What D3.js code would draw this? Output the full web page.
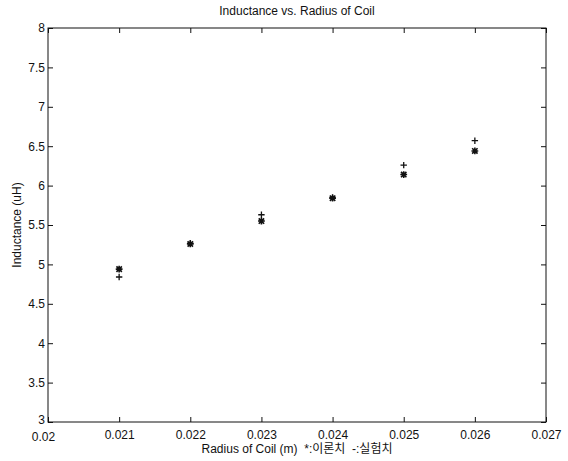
<!DOCTYPE html>
<html>
<head>
<meta charset="utf-8">
<script src="https://cdn.jsdelivr.net/npm/d3@7"></script>
<style>
  body { margin: 0; background: #fff; }
  svg text { font-family: "Liberation Sans", Arial, "Noto Sans CJK KR", sans-serif; fill: #111; }
</style>
</head>
<body>
<svg id="chart" width="568" height="461"></svg>
<script>
// Radius of coil (m)
var radius = [0.021, 0.022, 0.023, 0.024, 0.025, 0.026];
// '*' markers (theory) and '+' markers (experiment), uH
var theory = [4.94, 5.26, 5.55, 5.84, 6.14, 6.44];
var measured = [4.84, 5.27, 5.63, 5.85, 6.26, 6.57];

var xTicks = [0.020, 0.021, 0.022, 0.023, 0.024, 0.025, 0.026, 0.027];
var yTicks = [3, 3.5, 4, 4.5, 5, 5.5, 6, 6.5, 7, 7.5, 8];

(function() {

var plotLeft = 48, plotRight = 546, plotTop = 28, plotBottom = 422;
var fontSize = 12;

var svg = d3.select('#chart');

var x = d3.scaleLinear().domain([0.020, 0.027]).range([plotLeft, plotRight]);
var y = d3.scaleLinear().domain([3, 8]).range([plotBottom, plotTop]);

// box
svg.append('rect')
    .attr('x', plotLeft).attr('y', plotTop)
    .attr('width', plotRight - plotLeft).attr('height', plotBottom - plotTop)
    .attr('fill', 'none').attr('stroke', '#111').attr('stroke-width', 1);

// inward ticks on all four sides
var tickLen = 5;
var fmtX = function(d) { return d === 0.02 ? '0.02' : d3.format('.3f')(d); };

var xAxisB = d3.axisBottom(x).tickValues(xTicks).tickSize(-tickLen).tickPadding(8).tickFormat(fmtX);
var gxb = svg.append('g').attr('transform', 'translate(0,' + plotBottom + ')').call(xAxisB);
var xAxisT = d3.axisTop(x).tickValues(xTicks).tickSize(-tickLen).tickFormat('');
var gxt = svg.append('g').attr('transform', 'translate(0,' + plotTop + ')').call(xAxisT);

var yAxisL = d3.axisLeft(y).tickValues(yTicks).tickSize(-tickLen).tickPadding(3)
    .tickFormat(function(d) { return d3.format('')(d); });
var gyl = svg.append('g').attr('transform', 'translate(' + plotLeft + ',0)').call(yAxisL);
var yAxisR = d3.axisRight(y).tickValues(yTicks).tickSize(-tickLen).tickFormat('');
var gyr = svg.append('g').attr('transform', 'translate(' + plotRight + ',0)').call(yAxisR);

[gxb, gxt, gyl, gyr].forEach(function(g) {
  g.select('.domain').remove();
  g.selectAll('.tick line').attr('stroke', '#111');
  g.selectAll('.tick text').attr('font-size', fontSize).attr('fill', '#111');
});
// corner labels: "0.02" a bit left and down, "3" a bit up, so they stack
gxb.selectAll('.tick text').filter(function(d) { return d === 0.02; }).attr('dx', -5).attr('y', 10);
gyl.selectAll('.tick text').filter(function(d) { return d === 3; }).attr('y', -2);

// title and labels
svg.append('text')
    .attr('x', (plotLeft + plotRight) / 2).attr('y', 15)
    .attr('text-anchor', 'middle').attr('font-size', fontSize)
    .text('Inductance vs. Radius of Coil');

svg.append('text')
    .attr('x', (plotLeft + plotRight) / 2).attr('y', 453)
    .attr('text-anchor', 'middle').attr('font-size', fontSize)
    .style('white-space', 'pre')
    .text('Radius of Coil (m)  *:이론치  -:실험치');

svg.append('text')
    .attr('transform', 'translate(21,' + (plotTop + plotBottom) / 2 + ') rotate(-90)')
    .attr('text-anchor', 'middle').attr('font-size', fontSize)
    .text('Inductance (uH)');

// asterisk markers
var s = 3.4, d45 = 2.7;
svg.append('g').selectAll('path.star')
    .data(radius.map(function(r, i) { return [r, theory[i]]; }))
  .enter().append('path')
    .attr('class', 'star')
    .attr('stroke', '#111').attr('stroke-width', 1.6).attr('fill', 'none')
    .attr('d', function(d) {
      var cx = x(d[0]), cy = y(d[1]);
      return 'M' + (cx - s) + ',' + cy + 'H' + (cx + s) +
             'M' + cx + ',' + (cy - s) + 'V' + (cy + s) +
             'M' + (cx - d45) + ',' + (cy - d45) + 'L' + (cx + d45) + ',' + (cy + d45) +
             'M' + (cx - d45) + ',' + (cy + d45) + 'L' + (cx + d45) + ',' + (cy - d45);
    });

// plus markers
var p = 3.2;
svg.append('g').selectAll('path.plus')
    .data(radius.map(function(r, i) { return [r, measured[i]]; }))
  .enter().append('path')
    .attr('class', 'plus')
    .attr('stroke', '#111').attr('stroke-width', 1.3).attr('fill', 'none')
    .attr('d', function(d) {
      var cx = x(d[0]), cy = y(d[1]);
      return 'M' + (cx - p) + ',' + cy + 'H' + (cx + p) +
             'M' + cx + ',' + (cy - p) + 'V' + (cy + p);
    });

})();
</script>
</body>
</html>
